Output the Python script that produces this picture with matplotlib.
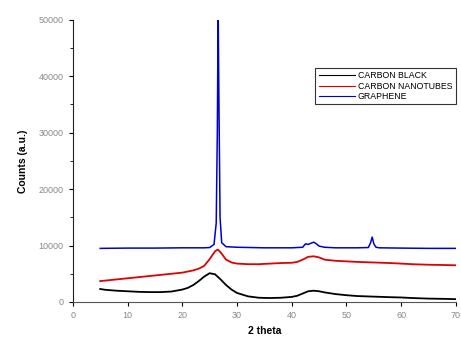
import matplotlib
matplotlib.use("Agg")
import matplotlib.pyplot as plt
from matplotlib.ticker import MultipleLocator

plt.rcParams['font.family'] = ['Liberation Sans', 'DejaVu Sans']

# Carbon black
cb_x = [5, 6, 8, 10, 12, 14, 16, 18, 20, 21, 22, 23, 24, 25, 26, 27, 28, 29, 30, 32, 34, 36, 38, 40,
        41, 42, 43, 44, 45, 46, 48, 50, 52, 55, 58, 60, 62, 65, 68, 70]
cb_y = [2300, 2150, 2000, 1900, 1800, 1750, 1750, 1850, 2200, 2500, 3000, 3700, 4500, 5100, 4900,
        4000, 3000, 2200, 1600, 1000, 750, 700, 750, 900, 1100, 1500, 1900, 2000, 1900, 1700, 1400,
        1200, 1050, 950, 850, 800, 700, 600, 550, 500]

# Carbon nanotubes
cn_x = [5, 8, 10, 12, 14, 16, 18, 20, 22, 23, 24, 25, 26, 26.5, 27, 28, 29, 30, 32, 34, 36, 38, 40,
        41, 42, 43, 44, 45, 46, 48, 50, 52, 55, 58, 60, 62, 65, 68, 70]
cn_y = [3700, 4000, 4200, 4400, 4600, 4800, 5000, 5200, 5600, 5900, 6400, 7600, 9000, 9300, 8800,
        7500, 7000, 6800, 6700, 6700, 6800, 6900, 6950, 7100, 7500, 8000, 8100, 7900, 7500, 7300,
        7200, 7100, 7000, 6900, 6800, 6700, 6600, 6550, 6500]

# Graphene
gr_x = [5, 10, 15, 20, 24, 25, 25.8, 26.2, 26.4, 26.55, 26.7, 26.9, 27.2, 28, 30, 35, 40, 42, 42.5,
        43, 43.5, 44, 44.5, 45, 46, 48, 50, 52, 54, 54.4, 54.7, 55, 55.4, 56, 60, 65, 70]
gr_y = [9500, 9550, 9550, 9600, 9600, 9650, 10200, 14000, 30000, 52000, 35000, 15000, 10500, 9800,
        9700, 9600, 9600, 9700, 10300, 10200, 10400, 10600, 10300, 9900, 9700, 9600, 9600, 9600,
        9650, 10500, 11500, 10300, 9700, 9600, 9550, 9500, 9500]

labels = ["CARBON BLACK", "CARBON NANOTUBES", "GRAPHENE"]
colors = ["#000000", "#e00000", "#0000d0"]

fig = plt.figure(figsize=(4.61, 3.42), dpi=100)
ax = fig.add_axes([0.158, 0.117, 0.831, 0.825])

ax.plot(cb_x, cb_y, color=colors[0], lw=1.3, label=labels[0])
ax.plot(cn_x, cn_y, color=colors[1], lw=1.3, label=labels[1])
ax.plot(gr_x, gr_y, color=colors[2], lw=1.1, label=labels[2])

ax.set_xlim(0, 70)
ax.set_ylim(0, 50000)
ax.xaxis.set_major_locator(MultipleLocator(10))
ax.yaxis.set_major_locator(MultipleLocator(10000))
ax.yaxis.set_minor_locator(MultipleLocator(5000))
ax.spines['top'].set_visible(False)
ax.spines['right'].set_visible(False)
ax.spines['left'].set_color('#222222')
ax.spines['bottom'].set_color('#555555')
ax.tick_params(axis='both', which='major', labelsize=6.5, labelcolor='#888888', length=3, width=0.8)
ax.tick_params(axis='y', which='minor', length=2, width=0.6)

ax.set_xlabel("2 theta", fontsize=7.5, fontweight='bold', labelpad=4)
ax.set_ylabel("Counts (a.u.)", fontsize=7.5, fontweight='bold', labelpad=8)

leg = ax.legend(loc='upper right', bbox_to_anchor=(1.0, 0.83), fontsize=6.3, frameon=True,
                fancybox=False, edgecolor='black', handlelength=4.2, handletextpad=0.3,
                borderpad=0.4, labelspacing=0.15, borderaxespad=0)
leg.get_frame().set_linewidth(0.8)
for line in leg.get_lines():
    line.set_linewidth(0.8)

fig.savefig("out.png", dpi=100)
